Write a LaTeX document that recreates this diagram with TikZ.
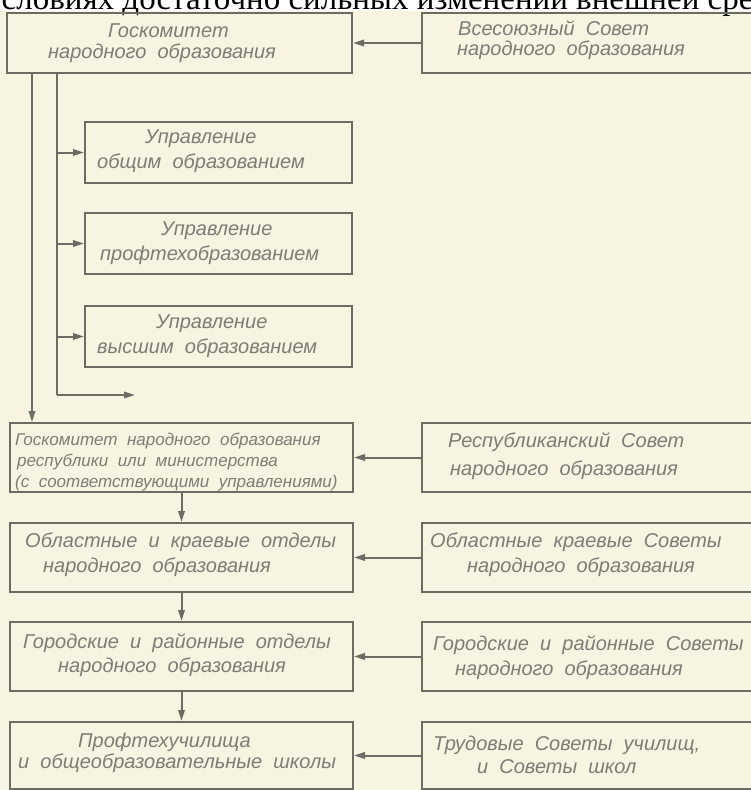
\documentclass[tikz,border=0pt]{standalone}
\usepackage{fontspec}
\usetikzlibrary{arrows.meta}
\newfontfamily\gostfam{Liberation Sans}[WordSpace=2]
\newfontfamily\pagefam{Liberation Serif}
\newcommand{\gost}{\gostfam\itshape\fontsize{20}{22}\selectfont}
\newcommand{\gostsm}{\gostfam\itshape\fontsize{17}{20}\selectfont}
\definecolor{paper}{RGB}{247,244,226}
\definecolor{ink}{RGB}{108,108,100}
\definecolor{txtgray}{RGB}{125,125,117}
\tikzset{
  box/.style={draw=ink, line width=2pt, rectangle, inner sep=0pt},
  arr/.style={draw=ink, line width=2pt, -{Triangle[length=11pt,width=6.5pt]}},
  ln/.style={draw=ink, line width=2pt},
  txt/.style={anchor=base west, inner sep=0pt, font=\gost, text=txtgray},
  txtsm/.style={anchor=base west, inner sep=0pt, font=\gostsm, text=txtgray}
}
\begin{document}
\begin{tikzpicture}[x=1pt,y=-1pt]
\clip (0,0) rectangle (751,790);
\fill[paper] (0,0) rectangle (751,790);
\fill[white] (0,0) rectangle (751,11);
\node[anchor=base west, inner sep=0pt, font=\pagefam\fontsize{33}{35}\selectfont] (pagetext) at (-15,9) {условиях достаточно сильных изменений внешней среды};

% boxes
\node[box, minimum width=345pt, minimum height=60pt] (A) at (179.5,43) {};
\node[box, minimum width=334pt, minimum height=60pt] (B) at (589,43) {};
\node[box, minimum width=267pt, minimum height=61pt] (U1) at (218.5,152.5) {};
\node[box, minimum width=267pt, minimum height=61pt] (U2) at (218.5,243.5) {};
\node[box, minimum width=267pt, minimum height=61pt] (U3) at (218.5,336.5) {};
\node[box, minimum width=343pt, minimum height=69pt] (R) at (181.5,457.5) {};
\node[box, minimum width=334pt, minimum height=69pt] (RS) at (589,457.5) {};
\node[box, minimum width=343pt, minimum height=69pt] (O) at (181.5,557.5) {};
\node[box, minimum width=334pt, minimum height=69pt] (OS) at (589,557.5) {};
\node[box, minimum width=343pt, minimum height=69pt] (G) at (181.5,656.5) {};
\node[box, minimum width=334pt, minimum height=69pt] (GS) at (589,656.5) {};
\node[box, minimum width=343pt, minimum height=67pt] (P) at (181.5,755.5) {};
\node[box, minimum width=334pt, minimum height=67pt] (TS) at (589,755.5) {};

% helper coordinates
\coordinate (l1) at (32,0);
\coordinate (l2) at (57,0);
\coordinate (b4) at (135,395);

% connectors
\draw[arr] (B.west) -- (A.east);
\draw[arr] (RS.west) -- (R.east);
\draw[arr] (OS.west) -- (O.east);
\draw[arr] (GS.west) -- (G.east);
\draw[arr] (TS.west) -- (P.east);
\draw[arr] (l1 |- A.south) -- (l1 |- R.north);
\draw[ln] (l2 |- A.south) -- (l2 |- b4);
\draw[arr] (l2 |- b4) -- (b4);
\draw[arr] (l2 |- U1.west) -- (U1.west);
\draw[arr] (l2 |- U2.west) -- (U2.west);
\draw[arr] (l2 |- U3.west) -- (U3.west);
\draw[arr] (R.south) -- (O.north);
\draw[arr] (O.south) -- (G.north);
\draw[arr] (G.south) -- (P.north);

% texts
\node[txt] (tA1) at (108,37) {Госкомитет};
\node[txt] (tA2) at (48,58) {народного образования};
\node[txt] (tB1) at (458,35) {Всесоюзный Совет};
\node[txt] (tB2) at (457,55) {народного образования};
\node[txt] (tU11) at (145,143) {Управление};
\node[txt] (tU12) at (97,168) {общим образованием};
\node[txt] (tU21) at (161,235) {Управление};
\node[txt] (tU22) at (100,260) {профтехобразованием};
\node[txt] (tU31) at (156,328) {Управление};
\node[txt] (tU32) at (97,353) {высшим образованием};
\node[txtsm] (tR1) at (15,445) {Госкомитет народного образования};
\node[txtsm] (tR2) at (17,466) {республики или министерства};
\node[txtsm] (tR3) at (15,487) {(с соответствующими управлениями)};
\node[txt] (tRS1) at (448,447) {Республиканский Совет};
\node[txt] (tRS2) at (450,475) {народного образования};
\node[txt] (tO1) at (25,547) {Областные и краевые отделы};
\node[txt] (tO2) at (43,572) {народного образования};
\node[txt] (tOS1) at (430,547) {Областные краевые Советы};
\node[txt] (tOS2) at (467,572) {народного образования};
\node[txt] (tG1) at (23,648) {Городские и районные отделы};
\node[txt] (tG2) at (58,672) {народного образования};
\node[txt] (tGS1) at (433,650) {Городские и районные Советы};
\node[txt] (tGS2) at (455,675) {народного образования};
\node[txt] (tP1) at (78,747) {Профтехучилища};
\node[txt] (tP2) at (18,768) {и общеобразовательные школы};
\node[txt] (tTS1) at (433,750) {Трудовые Советы училищ,};
\node[txt] (tTS2) at (477,773) {и Советы школ};
\end{tikzpicture}
\end{document}
